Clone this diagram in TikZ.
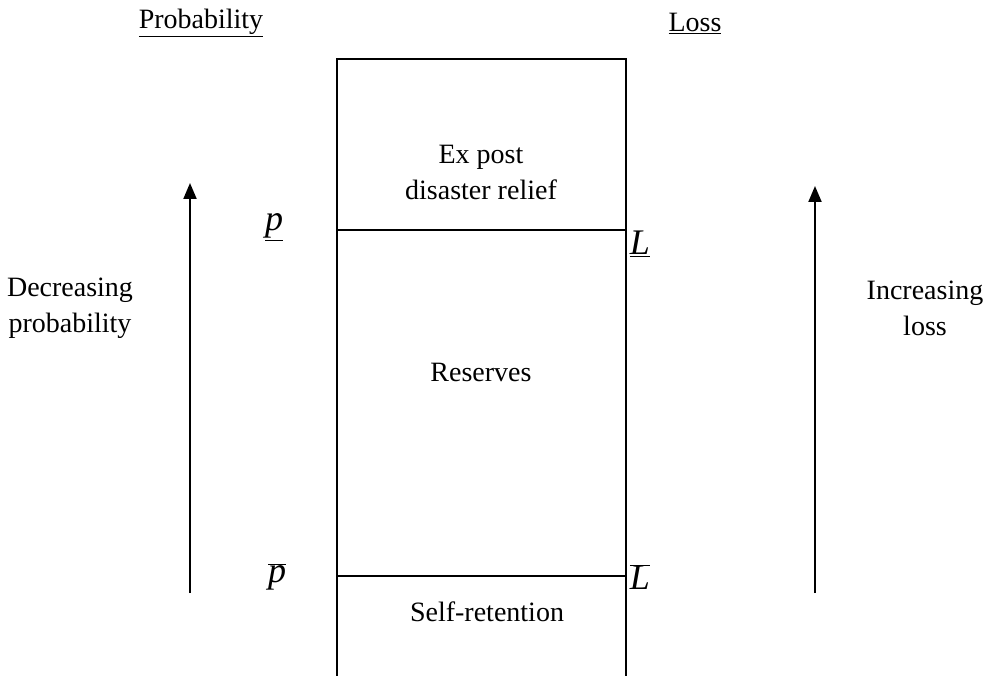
\documentclass[tikz,border=0pt]{standalone}
\usepackage{fontspec}
\setmainfont{Liberation Serif}
\usetikzlibrary{arrows.meta}

\begin{document}
\begin{tikzpicture}[%
    x=1pt, y=-1pt,              % Work in pixels, top-down
    >={Triangle[length=16pt,width=13pt]}, % Solid arrow heads
    line width=2pt,
    ]
% -------------------------------------------------
% Styles for the labels
\tikzset{
  lab/.style={align=center, inner sep=0pt, font=\fontsize{28}{36}\selectfont},
  head/.style={lab},
  sym/.style={lab, font=\fontsize{36}{36}\selectfont},
  axis/.style={->, draw}
}
\useasboundingbox (0,0) rectangle (985,676);
% -------------------------------------------------
% Column headings
\node [head] (hprob) at (201,23) {\underline{Probability}};
\node [head] (hloss) at (695,23) {\underline{Loss}};

% The layered column, open at the bottom
\coordinate (bl) at (337,676);
\coordinate (tl) at (337,59);
\coordinate (tr) at (626,59);
\coordinate (br) at (626,676);
\coordinate (ul) at (337,230);
\coordinate (ur) at (626,230);
\coordinate (ll) at (337,576);
\coordinate (lr) at (626,576);
\draw (bl) -- (tl) -- (tr) -- (br);
\draw (ul) -- (ur);
\draw (ll) -- (lr);

\node [lab] (relief) at (481,172) {Ex post\\disaster relief};
\node [lab] (reserves) at (481,372) {Reserves};
\node [lab] (selfret) at (487,612) {Self-retention};

% Thresholds on both sides
\node [sym] (pup) at (274,227) {\underline{\textit{p}}};
\node [sym] (lup) at (640,244) {\underline{\textit{L}}};
\node [sym] (pbar) at (277,577) {$\overline{\hbox{\textit{p}}}$};
\node [sym] (lbar) at (640,577) {$\overline{\hbox{\textit{L}}}$};

% Direction arrows with their labels
\coordinate (pbot) at (190,593);
\coordinate (ptop) at (190,183);
\coordinate (lbot) at (815,593);
\coordinate (ltop) at (815,186);
\draw [axis] (pbot) -- (ptop);
\draw [axis] (lbot) -- (ltop);
\node [lab] (decr) at (70,308) {Decreasing\\probability};
\node [lab] (incr) at (925,308) {Increasing\\loss};
% -------------------------------------------------
\end{tikzpicture}
\end{document}
